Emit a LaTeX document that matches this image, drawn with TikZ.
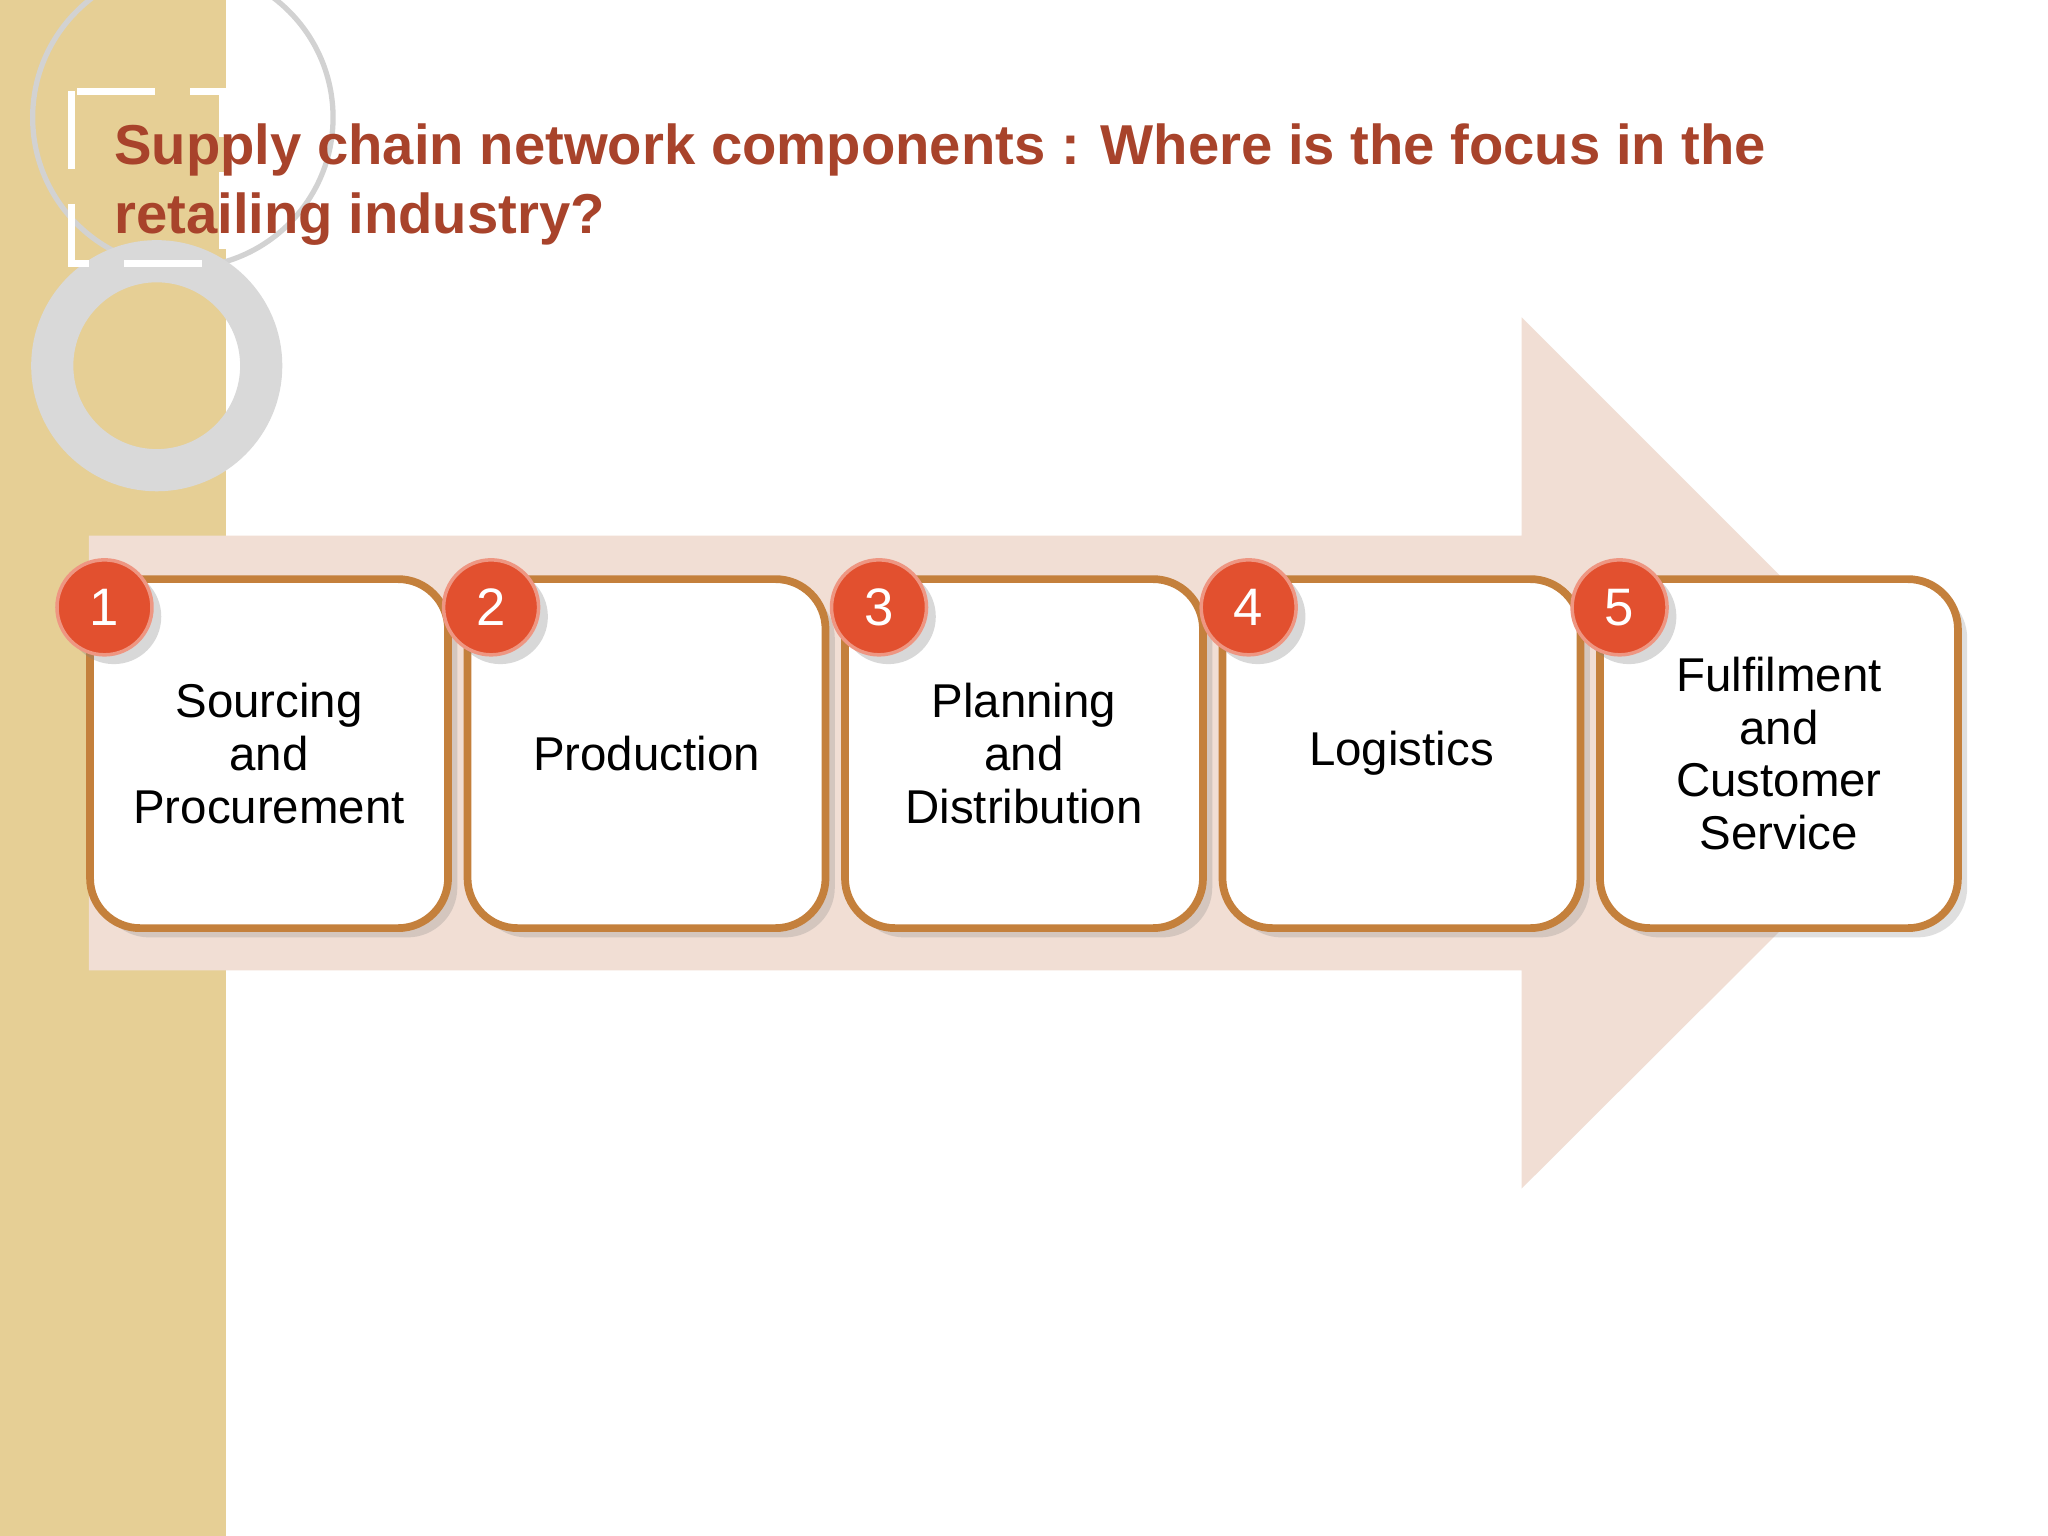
\documentclass[tikz,border=0pt]{standalone}
\usepackage{fontspec}
\setmainfont{Liberation Sans}
\usetikzlibrary{positioning,shadows}
\definecolor{strip}{HTML}{E6CF95}
\definecolor{titlered}{HTML}{A8432B}
\definecolor{arrowpink}{HTML}{F1DED4}
\definecolor{boxedge}{HTML}{C4803C}
\definecolor{badge}{HTML}{E2502F}
\tikzset{
  stepbox/.style={draw=boxedge, line width=2.2pt, fill=white, rounded corners=0.5cm,
    minimum width=3.58cm, minimum height=3.49cm, align=center,
    font=\fontsize{13.5}{15}\selectfont, drop shadow={opacity=0.25}},
  stepnum/.style={circle, fill=badge, draw=badge!60!white, line width=1pt,
    minimum size=0.95cm, text=white, font=\fontsize{15}{15}\selectfont, drop shadow={opacity=0.3}}
}
\begin{document}
\begin{tikzpicture}[x=0.01306cm, y=-0.01306cm]
    \useasboundingbox (0,0) rectangle (1568,1176);
    \fill[white] (0,0) rectangle (1568,1176);

    % left strip and ornaments
    \fill[strip] (0,0) rectangle (173,1176);
    \draw[gray!35, line width=1.5pt] (140,90) circle (115);
    \draw[gray!30, line width=12pt] (120,280) circle (80);
    \draw[white, dashed, line width=2pt, dash pattern=on 22pt off 10pt] (55,70) rectangle (170,202);

    \node[anchor=base west, text=titlered, font=\bfseries\fontsize{16}{16}\selectfont] (t1) at (78,126)
        {Supply chain network components : Where is the focus in the};
    \node[anchor=base west, text=titlered, font=\bfseries\fontsize{16}{16}\selectfont] (t2) at (78,179)
        {retailing industry?};

    % arrow
    \fill[arrowpink] (68,410) -- (1165,410) -- (1165,243) -- (1499,577) -- (1165,910)
        -- (1165,743) -- (68,743) -- cycle;

    \node[stepbox] (s1) at (206,577) {Sourcing\\and\\Procurement};
    \node[stepbox] (s2) at (495,577) {Production};
    \node[stepbox] (s3) at (784,577) {Planning\\and\\Distribution};
    \node[stepbox] (s4) at (1073,577) {Logistics};
    \node[stepbox] (s5) at (1362,577) {Fulfilment\\and\\Customer\\Service};

    \foreach \n/\x in {1/80, 2/376, 3/673, 4/956, 5/1240}
        \node[stepnum] (n\n) at (\x,465) {\n};
\end{tikzpicture}
\end{document}
